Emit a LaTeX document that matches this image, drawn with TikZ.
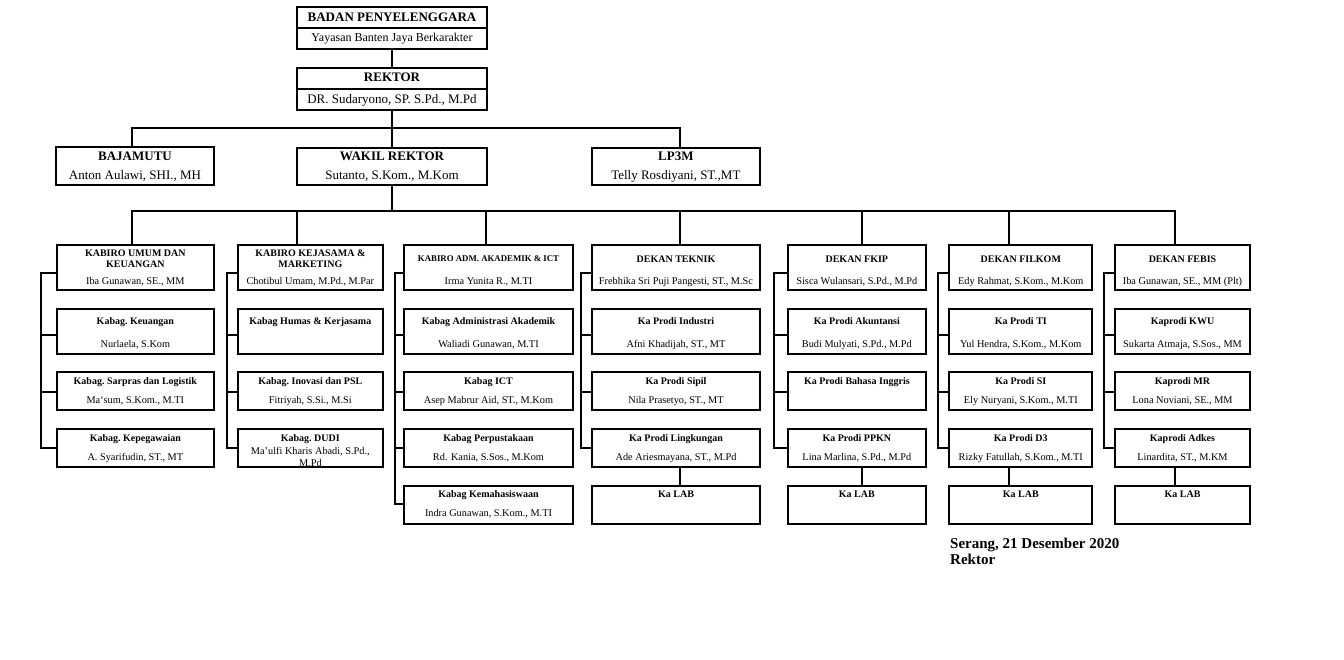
\documentclass[tikz,border=0pt]{standalone}
\usepackage{fontspec}
\setmainfont{Liberation Serif}
\tikzset{
  ln/.style={line width=1.8pt, line join=miter, black},
  bx/.style={draw, line width=1.8pt, inner sep=0pt, outer sep=0pt, rectangle},
  ttl/.style={inner sep=0pt, font=\fontsize{10}{10.7}\selectfont\bfseries},
  ttls/.style={inner sep=0pt, font=\fontsize{8.8}{10}\selectfont\bfseries},
  per/.style={inner sep=0pt, font=\fontsize{10.3}{11}\selectfont},
  tttl/.style={inner sep=0pt, font=\fontsize{13}{14}\selectfont\bfseries},
  tper/.style={inner sep=0pt, font=\fontsize{13}{14}\selectfont},
}
% name, x1, x2, y1, y2, title, title baseline, person, person baseline
\newcommand\orgbox[9]{%
  \node[bx, minimum width={(#3)-(#2)}, minimum height={(#5)-(#4)}] (#1) at ({((#2)+(#3))/2},{((#4)+(#5))/2}) {};
  \node[ttl, anchor=base] (#1t) at ({((#2)+(#3))/2},#7) {#6};
  \node[per, anchor=base] (#1p) at ({((#2)+(#3))/2},#9) {#8};
}
% column id, x of bracket, number of rows, y of last tick
\newcommand\obracket[4]{%
  \coordinate (#1k) at (#2,272.7);
  \draw[ln] (#1r1.west |- #1k) -- (#1k) -- (#1k |- 0,#4) -- (#1r#3.west |- 0,#4);
  \foreach \yy [count=\r from 2] in {334.7,391.7,448.3}{%
    \ifnum\r<#3 \draw[ln] (#1k |- 0,\yy) -- (#1r\r.west |- 0,\yy);\fi
  }
}
\begin{document}
\begin{tikzpicture}[x=1pt,y=-1pt]
\useasboundingbox (0,0) rectangle (1344,660);

% ---------- top level ----------
\node[bx, minimum width=190, minimum height=41.7] (badan) at (392,28.15) {};
\draw[ln] (badan.west |- 0,28.3) -- (badan.east |- 0,28.3);
\node[tttl, anchor=base] (badant) at (392,21.6) {BADAN PENYELENGGARA};
\node[per, anchor=base, font=\fontsize{12}{13}\selectfont] (badanp) at (392,41.4) {Yayasan Banten Jaya Berkarakter};

\node[bx, minimum width=190, minimum height=42.3] (rektor) at (392,88.85) {};
\draw[ln] (rektor.west |- 0,89.3) -- (rektor.east |- 0,89.3);
\node[tttl, anchor=base] (rektort) at (392,81.4) {REKTOR};
\node[tper, anchor=base] (rektorp) at (392,103.2) {DR. Sudaryono, SP. S.Pd., M.Pd};

\node[bx, minimum width=158, minimum height=38.3] (bajamutu) at (135,165.85) {};
\node[tttl, anchor=base] (bajamutut) at (135,161) {BAJAMUTU};
\node[tper, anchor=base] (bajamutup) at (135,180) {Anton Aulawi, SHI., MH};

\node[bx, minimum width=190, minimum height=37.3] (wakil) at (392,166.35) {};
\node[tttl, anchor=base] (wakilt) at (392,161) {WAKIL REKTOR};
\node[tper, anchor=base] (wakilp) at (392,180) {Sutanto, S.Kom., M.Kom};

\node[bx, minimum width=168.3, minimum height=37.3] (lp3m) at (675.85,166.35) {};
\node[tttl, anchor=base] (lp3mt) at (675.85,161) {LP3M};
\node[tper, anchor=base] (lp3mp) at (675.85,180) {Telly Rosdiyani, ST.,MT};

\draw[ln] (badan.south) -- (rektor.north);
\draw[ln] (rektor.south) -- (wakil.north);
\coordinate (bA1) at (131.7,128.2);
\coordinate (bA2) at (680,128.2);
\draw[ln] (bajamutu.north -| bA1) -- (bA1) -- (bA2) -- (lp3m.north -| bA2);

% ---------- second bus ----------
\coordinate (d1) at (131.7,210.7);
\coordinate (d2) at (297.3,210.7);
\coordinate (d3) at (485.7,210.7);
\coordinate (d4) at (680,210.7);
\coordinate (d5) at (861.7,210.7);
\coordinate (d6) at (1009,210.7);
\coordinate (d7) at (1175,210.7);
\draw[ln] (wakil.south) -- (wakil.south |- d1);

% ---------- column 1 ----------
\orgbox{c1r1}{56.7}{214}{245}{290}{KABIRO UMUM DAN}{256.6}{Iba Gunawan, SE., MM}{284.6}
\node[ttl, anchor=base] (c1r1t2) at (c1r1t.base |- 0,267.3) {KEUANGAN};
\orgbox{c1r2}{56.7}{214}{308.7}{353.7}{Kabag.\ Keuangan}{325}{Nurlaela, S.Kom}{347}
\orgbox{c1r3}{56.7}{214}{372.3}{410.3}{Kabag.\ Sarpras dan Logistik}{384.3}{Ma`sum, S.Kom., M.TI}{403.6}
\orgbox{c1r4}{56.7}{214}{429}{467}{Kabag.\ Kepegawaian}{441.6}{A. Syarifudin, ST., MT}{460.6}

% ---------- column 2 ----------
\orgbox{c2r1}{238}{382.7}{245}{290}{KABIRO KEJASAMA \&}{256.6}{Chotibul Umam, M.Pd., M.Par}{284.6}
\node[ttl, anchor=base] (c2r1t2) at (c2r1t.base |- 0,267.3) {MARKETING};
\orgbox{c2r2}{238}{382.7}{308.7}{353.7}{Kabag Humas \& Kerjasama}{325}{}{347}
\orgbox{c2r3}{238}{382.7}{372.3}{410.3}{Kabag.\ Inovasi dan PSL}{384.3}{Fitriyah, S.Si., M.Si}{403.6}
\orgbox{c2r4}{238}{382.7}{429}{467}{Kabag.\ DUDI}{441.6}{Ma'ulfi Kharis Abadi, S.Pd.,}{454.3}
\node[per, anchor=base] (c2r4p2) at (c2r4p.base |- 0,466) {M.Pd};

% ---------- column 3 ----------
\orgbox{c3r1}{404}{573}{245}{290}{}{262}{Irma Yunita R., M.TI}{284.6}
\node[ttls, anchor=base] (c3r1ts) at (488.5,262) {KABIRO ADM. AKADEMIK \& ICT};
\orgbox{c3r2}{404}{573}{308.7}{353.7}{Kabag Administrasi Akademik}{325}{Waliadi Gunawan, M.TI}{347}
\orgbox{c3r3}{404}{573}{372.3}{410.3}{Kabag ICT}{384.3}{Asep Mabrur Aid, ST., M.Kom}{403.6}
\orgbox{c3r4}{404}{573}{429}{467}{Kabag Perpustakaan}{441.6}{Rd. Kania, S.Sos., M.Kom}{460.6}
\orgbox{c3r5}{404}{573}{486}{523.7}{Kabag Kemahasiswaan}{497.6}{Indra Gunawan, S.Kom., M.TI}{516.6}

% ---------- column 4 ----------
\orgbox{c4r1}{592}{760}{245}{290}{DEKAN TEKNIK}{262.3}{Frebhika Sri Puji Pangesti, ST., M.Sc}{284.6}
\orgbox{c4r2}{592}{760}{308.7}{353.7}{Ka Prodi Industri}{325}{Afni Khadijah, ST., MT}{347}
\orgbox{c4r3}{592}{760}{372.3}{410.3}{Ka Prodi Sipil}{384.3}{Nila Prasetyo, ST., MT}{403.6}
\orgbox{c4r4}{592}{760}{429}{467}{Ka Prodi Lingkungan}{441.6}{Ade Ariesmayana, ST., M.Pd}{460.6}
\orgbox{c4r5}{592}{760}{486}{523.7}{Ka LAB}{497.6}{}{516.6}

% ---------- column 5 ----------
\orgbox{c5r1}{787.7}{926}{245}{290}{DEKAN FKIP}{262.3}{Sisca Wulansari, S.Pd., M.Pd}{284.6}
\orgbox{c5r2}{787.7}{926}{308.7}{353.7}{Ka Prodi Akuntansi}{325}{Budi Mulyati, S.Pd., M.Pd}{347}
\orgbox{c5r3}{787.7}{926}{372.3}{410.3}{Ka Prodi Bahasa Inggris}{384.3}{}{403.6}
\orgbox{c5r4}{787.7}{926}{429}{467}{Ka Prodi PPKN}{441.6}{Lina Marlina, S.Pd., M.Pd}{460.6}
\orgbox{c5r5}{787.7}{926}{486}{523.7}{Ka LAB}{497.6}{}{516.6}

% ---------- column 6 ----------
\orgbox{c6r1}{949.3}{1092.3}{245}{290}{DEKAN FILKOM}{262.3}{Edy Rahmat, S.Kom., M.Kom}{284.6}
\orgbox{c6r2}{949.3}{1092.3}{308.7}{353.7}{Ka Prodi TI}{325}{Yul Hendra, S.Kom., M.Kom}{347}
\orgbox{c6r3}{949.3}{1092.3}{372.3}{410.3}{Ka Prodi SI}{384.3}{Ely Nuryani, S.Kom., M.TI}{403.6}
\orgbox{c6r4}{949.3}{1092.3}{429}{467}{Ka Prodi D3}{441.6}{Rizky Fatullah, S.Kom., M.TI}{460.6}
\orgbox{c6r5}{949.3}{1092.3}{486}{523.7}{Ka LAB}{497.6}{}{516.6}

% ---------- column 7 ----------
\orgbox{c7r1}{1115}{1250}{245}{290}{DEKAN FEBIS}{262.3}{Iba Gunawan, SE., MM (Plt)}{284.6}
\orgbox{c7r2}{1115}{1250}{308.7}{353.7}{Kaprodi KWU}{325}{Sukarta Atmaja, S.Sos., MM}{347}
\orgbox{c7r3}{1115}{1250}{372.3}{410.3}{Kaprodi MR}{384.3}{Lona Noviani, SE., MM}{403.6}
\orgbox{c7r4}{1115}{1250}{429}{467}{Kaprodi Adkes}{441.6}{Linardita, ST., M.KM}{460.6}
\orgbox{c7r5}{1115}{1250}{486}{523.7}{Ka LAB}{497.6}{}{516.6}

% ---------- bus and drops ----------
\draw[ln] (c1r1.north -| d1) -- (d1) -- (d7) -- (c7r1.north -| d7);
\foreach \c in {2,3,4,5,6}{\draw[ln] (d\c) -- (c\c r1.north -| d\c);}

% ---------- brackets ----------
\obracket{c1}{41}{4}{448.3}
\obracket{c2}{227.3}{4}{448.3}
\obracket{c3}{395}{5}{504.3}
\obracket{c4}{581}{4}{448.3}
\obracket{c5}{774}{4}{448.3}
\obracket{c6}{938}{4}{448.3}
\obracket{c7}{1103.7}{4}{448.3}

% ---------- lab links ----------
\foreach \c in {4,5,6,7}{\draw[ln] (c\c r4.south -| d\c) -- (c\c r5.north -| d\c);}

% ---------- signature ----------
\node[anchor=base west, inner sep=0pt, font=\fontsize{15}{15}\selectfont\bfseries] (ttd1) at (950,548.3) {Serang, 21 Desember 2020};
\node[anchor=base west, inner sep=0pt, font=\fontsize{15}{15}\selectfont\bfseries] (ttd2) at (950,564) {Rektor};
\end{tikzpicture}
\end{document}
